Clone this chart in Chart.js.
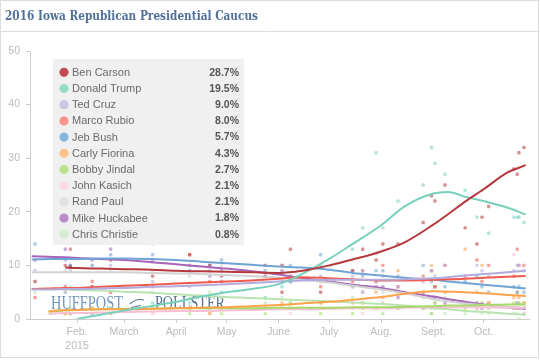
<!DOCTYPE html>
<html lang="en">
<head>
<meta charset="UTF-8" />
<title>2016 Iowa Republican Presidential Caucus</title>
<script src="https://cdn.jsdelivr.net/npm/chart.js"></script>
<style>
  body { margin: 0; background: #fff; }
  #wrap { position: relative; width: 540px; height: 360px; }
</style>
</head>
<body>
<div id="wrap"><canvas id="caucusChart" width="540" height="360"></canvas></div>
<script>
  // days counted from Jan 1 2015
  const monthDays = [31, 59, 90, 120, 151, 181, 212, 243, 273];
  const monthLabels = ["Feb.", "March", "April", "May", "June", "July", "Aug.", "Sept.", "Oct."];

  const candidates = ["Ben Carson", "Donald Trump", "Ted Cruz", "Marco Rubio", "Jeb Bush", "Carly Fiorina",
    "Bobby Jindal", "John Kasich", "Rand Paul", "Mike Huckabee", "Chris Christie"];
  const latestPct = [28.7, 19.5, 9.0, 8.0, 5.7, 4.3, 2.7, 2.1, 2.1, 1.8, 0.8];

  // trend lines
  const trendDays = [4, 14, 24, 31, 45, 59, 75, 90, 105, 120, 135, 151, 165, 181, 195, 212, 226, 243, 252, 262, 273, 287, 298];
  const carsonTrend = [null, null, 9.6, 9.5, 9.4, 9.3, 9.2, 9.0, 8.9, 8.8, 8.7, 8.6, 9.0, 10.0, 11.1, 12.6, 14.3, 17.6, 19.6, 21.9, 24.2, 27.3, 28.7];
  const trumpTrend = [null, null, null, 0.0, 0.8, 1.6, 2.4, 3.2, 4.2, 5.0, 5.6, 6.5, 8.4, 11.2, 14.0, 17.5, 21.0, 23.4, 23.7, 22.8, 22.0, 20.8, 19.5];
  const cruzTrend = [5.5, 5.5, 5.6, 5.6, 5.7, 5.8, 6.0, 6.1, 6.3, 6.5, 6.7, 7.0, 7.2, 7.3, 7.3, 7.3, 7.4, 7.6, 7.8, 8.1, 8.4, 8.7, 9.0];
  const rubioTrend = [5.6, 5.7, 5.8, 5.8, 6.0, 6.2, 6.4, 6.6, 6.8, 7.0, 7.2, 7.5, 7.8, 7.6, 7.4, 7.2, 7.2, 7.3, 7.4, 7.5, 7.7, 7.9, 8.0];
  const bushTrend = [11.1, 11.2, 11.2, 11.2, 11.3, 11.3, 11.2, 11.0, 10.7, 10.4, 10.1, 9.8, 9.6, 9.2, 8.6, 8.1, 7.7, 7.3, 7.0, 6.7, 6.4, 6.0, 5.7];
  const fiorinaTrend = [null, 1.4, 1.7, 1.7, 1.8, 1.8, 1.9, 2.0, 2.1, 2.2, 2.4, 2.6, 2.9, 3.2, 3.6, 4.1, 4.7, 5.2, 5.1, 5.0, 4.8, 4.5, 4.3];
  const jindalTrend = [null, 1.4, 1.6, 1.7, 1.8, 1.9, 1.9, 2.0, 2.0, 2.0, 2.0, 2.1, 2.1, 2.1, 2.2, 2.2, 2.3, 2.4, 2.5, 2.5, 2.6, 2.7, 2.7];
  const kasichTrend = [null, 1.0, 1.1, 1.1, 1.2, 1.3, 1.4, 1.5, 1.5, 1.6, 1.7, 1.8, 1.8, 1.9, 2.0, 2.0, 2.1, 2.2, 2.2, 2.2, 2.2, 2.1, 2.1];
  const paulTrend = [8.7, 8.7, 8.7, 8.7, 8.7, 8.7, 8.6, 8.5, 8.4, 8.2, 8.0, 7.7, 7.3, 6.8, 6.2, 5.5, 4.8, 3.7, 3.3, 2.9, 2.6, 2.3, 2.1];
  const huckabeeTrend = [11.7, 11.6, 11.5, 11.4, 11.2, 11.0, 10.6, 10.2, 9.8, 9.4, 8.9, 8.3, 7.6, 7.0, 6.4, 5.8, 5.0, 4.2, 3.7, 3.2, 2.7, 2.2, 1.9];
  const christieTrend = [5.6, 5.6, 5.5, 5.4, 5.3, 5.1, 4.9, 4.6, 4.4, 4.1, 3.9, 3.7, 3.5, 3.3, 3.1, 2.8, 2.5, 2.0, 1.8, 1.5, 1.3, 1.0, 0.8];

  // individual polls
  const pollDays = [6, 24, 27, 40, 51, 76, 98, 110, 117, 143, 153, 158, 176, 195, 201, 209, 213, 222, 237, 242, 244, 250, 262, 269, 272, 276, 291, 293, 294, 297];
  const carsonPolls = [7, 10, 9.7, 6, 11, 8, 12, 10, 8, 10, 5, 13, 5, 9, 13, 11, 14, 14, 18, 23, 22, 25, 17, 14, 19, 21, 28, 27, 31, 32];
  const trumpPolls = [null, null, 1, 1, 2, 3, 3, 4, 5, 4, 6, 7, 10, 13, 17, 31, 17, 22, 25, 32, 29, 27, 24, 19, 24, 16, 19, 19, 19, 18];
  const cruzPolls = [9, 5, 9, 6, 10, 7, 6, 9, 7, 8, 7, 7, 8, 8, 9, 7, 8, 6, 7, 9, 8, 10, 8, 10, 9, 8, 9, 10, 10, 9];
  const rubioPolls = [4, 6, 13, 7, 5, 6, 12, 7, 7, 8, 10, 8, 6, 7, 9, 7, 10, 6, 8, 9, 6, 10, 8, 11, 7, 10, 8, 13, 10, 10];
  const bushPolls = [14, 11, 10, 10, 12, 12, 9, 10, 11, 9, 10, 10, 12, 9, 8, 9, 9, 8, 10, 7, 6, 6, 7, 8, 6, 5, 6, 5, 6, 5];
  const fiorinaPolls = [null, 1, 1, 2, 1, 14, 2, 1, 2, 2, 3, 2, 3, 3, 3, 5, 4, 9, 5, 10, 6, 5, 13, 5, 10, 3, 4, 5, 4, 3];
  const jindalPolls = [null, 1, 2, 2, 2, 2, 1, 2, 1, 1, 2, 3, 1, 1, 2, 2, 1, 2, 2, 1, 3, 2, 2, 3, 3, 2, 3, 2, 3, 3];
  const kasichPolls = [null, 1, 1, 1, 1, 1, 2, 1, 2, 2, 2, 1, 2, 2, 1, 2, 3, 2, 2, 2, 3, 2, 3, 2, 2, 3, 12, 2, 2, 1];
  const paulPolls = [7, 9, 13, 10, 9, 9, 8, 8, 10, 8, 7, 8, 7, 6, 5, 6, 5, 5, 4, 4, 3, 4, 3, 2, 3, 3, 2, 2, 3, 2];
  const huckabeePolls = [11, 13, 10, 11, 13, 11, 10, 8, 9, 8, 9, 7, 7, 6, 5, 6, 6, 4, 5, 4, 4, 3, 3, 3, 2, 3, 2, 3, 2, 2];
  const christiePolls = [5, 5, 6, 4, 5, 5, 4, 5, 4, 3, 4, 3, 3, 4, 3, 2, 3, 2, 2, 1, 2, 1, 1, 2, 1, 1, 1, 1, 0, 1];

  const trends = [carsonTrend, trumpTrend, cruzTrend, rubioTrend, bushTrend, fiorinaTrend,
    jindalTrend, kasichTrend, paulTrend, huckabeeTrend, christieTrend];
  const polls = [carsonPolls, trumpPolls, cruzPolls, rubioPolls, bushPolls, fiorinaPolls,
    jindalPolls, kasichPolls, paulPolls, huckabeePolls, christiePolls];

  const lineColors = ["#b5393c", "#78cfbb", "#b2abdc", "#ee5a4d", "#6fa3d4", "#fca34c",
    "#a6d96a", "#f9bfd3", "#d2d2d2", "#a665b8", "#b9e3b0"];
  const legendColors = ["#c24a4e", "#94dcc9", "#c9c5e5", "#f7968a", "#86b4dc", "#fdc288",
    "#b9e289", "#fbd8e4", "#e2e2e2", "#bb8dcc", "#d3efcf"];

  function withAlpha(hex, a) {
    const n = parseInt(hex.slice(1), 16);
    return `rgba(${n >> 16}, ${(n >> 8) & 255}, ${n & 255}, ${a})`;
  }

  function toPoints(days, vals) {
    return days.map((d, i) => ({ x: d, y: vals[i] })).filter(p => p.y !== null);
  }

  const datasets = [];
  candidates.forEach((name, i) => {
    datasets.push({
      label: name,
      data: toPoints(trendDays, trends[i]),
      borderColor: lineColors[i],
      borderWidth: 2,
      pointRadius: 0,
      fill: false,
      cubicInterpolationMode: "monotone",
      order: i
    });
    datasets.push({
      label: name + " polls",
      data: toPoints(pollDays, polls[i]),
      showLine: false,
      pointStyle: "rectRounded",
      pointRadius: 2,
      pointBorderWidth: 0,
      pointBackgroundColor: withAlpha(lineColors[i], 0.55),
      order: 100 + i
    });
  });

  // frame, header, watermark and legend box
  const framePlugin = {
    id: "frame",
    beforeDraw(chart) {
      const ctx = chart.ctx;
      ctx.save();
      ctx.fillStyle = "#fff";
      ctx.fillRect(0, 0, chart.width, chart.height);
      ctx.strokeStyle = "#dcdcdc";
      ctx.lineWidth = 1;
      ctx.strokeRect(0.5, 0.5, 538, 357);
      ctx.beginPath();
      ctx.moveTo(0, 31.5);
      ctx.lineTo(539, 31.5);
      ctx.stroke();

      const title = "2016 Iowa Republican Presidential Caucus";
      ctx.font = "bold 12px 'DejaVu Serif'";
      const w = ctx.measureText(title).width;
      ctx.translate(5, 19.5);
      ctx.scale(253 / w, 1);
      ctx.fillStyle = "#4f6f98";
      ctx.textBaseline = "alphabetic";
      ctx.fillText(title, 0, 0);
      ctx.restore();
    },
    beforeDatasetsDraw(chart) {
      const ctx = chart.ctx;
      ctx.save();
      ctx.font = "18px 'Liberation Serif'";
      ctx.textBaseline = "alphabetic";
      let w = ctx.measureText("HUFFPOST").width;
      ctx.save();
      ctx.translate(51, 309);
      ctx.scale(72 / w, 1);
      ctx.fillStyle = "#7396bd";
      ctx.fillText("HUFFPOST", 0, 0);
      ctx.restore();
      w = ctx.measureText("POLLSTER").width;
      ctx.save();
      ctx.translate(155, 309);
      ctx.scale(70 / w, 1);
      ctx.fillStyle = "#5a7391";
      ctx.fillText("POLLSTER", 0, 0);
      ctx.restore();
      ctx.strokeStyle = "#5a7391";
      ctx.lineWidth = 1.2;
      ctx.beginPath();
      ctx.moveTo(130, 304);
      ctx.quadraticCurveTo(136, 298, 144, 300);
      ctx.moveTo(131, 307.5);
      ctx.lineTo(141, 305.5);
      ctx.stroke();
      ctx.restore();
    },
    afterDatasetsDraw(chart) {
      const ctx = chart.ctx;
      ctx.save();
      ctx.fillStyle = "#f0f0f0";
      ctx.fillRect(53, 59, 191, 186);
      ctx.textBaseline = "middle";
      candidates.forEach((name, i) => {
        const y = 72.3 + i * 16.2;
        ctx.fillStyle = legendColors[i];
        ctx.beginPath();
        ctx.arc(64, y, 4.6, 0, Math.PI * 2);
        ctx.fill();
        ctx.fillStyle = "#6a6a6a";
        ctx.textAlign = "left";
        ctx.font = "11px 'Liberation Sans'";
        ctx.fillText(name, 72, y + 0.5);
        ctx.fillStyle = "#555";
        ctx.textAlign = "right";
        ctx.font = "bold 10.5px 'Liberation Sans'";
        ctx.fillText(latestPct[i].toFixed(1) + "%", 239, y + 0.5);
      });
      ctx.restore();
    }
  };

  const axisFont = { family: "'Liberation Sans', Arial, sans-serif", size: 10.5, lineHeight: 1.25 };

  new Chart(document.getElementById("caucusChart"), {
    type: "line",
    data: { datasets: datasets },
    plugins: [framePlugin],
    options: {
      responsive: false,
      animation: false,
      events: [],
      layout: { padding: { top: 51, right: 11, left: 0, bottom: 0 } },
      plugins: {
        legend: { display: false },
        tooltip: { enabled: false }
      },
      scales: {
        x: {
          type: "linear",
          min: 3,
          max: 300,
          afterBuildTicks: (axis) => {
            axis.ticks = monthDays.map(v => ({ value: v }));
          },
          afterFit: (s) => { s.height = 41; },
          ticks: {
            autoSkip: false,
            maxRotation: 0,
            color: "#bbb",
            font: axisFont,
            padding: 3,
            callback: (v) => {
              const i = monthDays.indexOf(v);
              return i === 0 ? ["Feb.", "2015"] : monthLabels[i];
            }
          },
          grid: { drawOnChartArea: false, tickLength: 4, color: "#ccc" },
          border: { color: "#ccc" }
        },
        y: {
          min: 0,
          max: 50,
          afterFit: (s) => { s.width = 30; },
          ticks: { stepSize: 10, color: "#bbb", font: axisFont, padding: 6 },
          grid: { drawOnChartArea: false, tickLength: 4, color: "#ccc" },
          border: { color: "#ccc" }
        }
      }
    }
  });
</script>
</body>
</html>
